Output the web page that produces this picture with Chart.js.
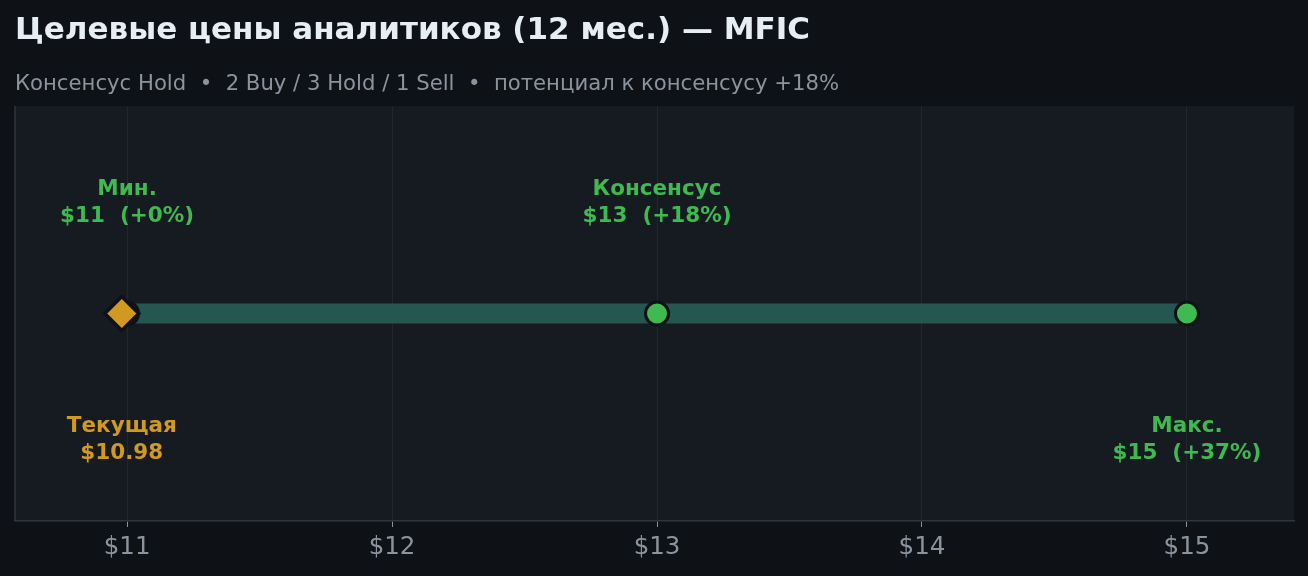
<!DOCTYPE html>
<html lang="ru">
<head>
    <meta charset="UTF-8">
    <title>Целевые цены аналитиков — MFIC</title>
    <script src="https://cdn.jsdelivr.net/npm/chart.js@4"></script>
    <style>
        html, body { margin: 0; padding: 0; background: #0e1217; }
        .wrap { width: 1308px; height: 576px; }
    </style>
</head>
<body>
    <div class="wrap"><canvas id="targets"></canvas></div>

    <script>
        // analyst targets, USD
        const targetNames = ['Мин.', 'Консенсус', 'Макс.'];
        const targetPrices = [11, 13, 15];
        const currentPrice = 10.98;
        const tickValues = [11, 12, 13, 14, 15];

        const GREEN = '#3fb950';
        const GOLD = '#d29922';
        const FONT = "'DejaVu Sans', sans-serif";

        const upside = p => {
            const v = Math.round((p / currentPrice - 1) * 100);
            return (v >= 0 ? '+' : '') + v + '%';
        };

        // plot background + left spine
        const plotBg = {
            id: 'plotBg',
            beforeDraw(chart) {
                const { ctx, chartArea: a } = chart;
                ctx.save();
                ctx.fillStyle = '#161b22';
                ctx.fillRect(a.left, a.top, a.right - a.left, a.bottom - a.top);
                ctx.strokeStyle = '#30363d';
                ctx.lineWidth = 1.5;
                ctx.beginPath();
                ctx.moveTo(a.left, a.top);
                ctx.lineTo(a.left, a.bottom);
                ctx.stroke();
                ctx.restore();
            }
        };

        // text annotations next to the markers
        const markerLabels = {
            id: 'markerLabels',
            afterDatasetsDraw(chart) {
                const { ctx, scales: { x, y } } = chart;
                const items = [
                    { lines: [targetNames[0], '$' + targetPrices[0] + '  (' + upside(targetPrices[0]) + ')'], at: targetPrices[0], up: true, color: GREEN },
                    { lines: [targetNames[1], '$' + targetPrices[1] + '  (' + upside(targetPrices[1]) + ')'], at: targetPrices[1], up: true, color: GREEN },
                    { lines: [targetNames[2], '$' + targetPrices[2] + '  (' + upside(targetPrices[2]) + ')'], at: targetPrices[2], up: false, color: GREEN },
                    { lines: ['Текущая', '$' + currentPrice.toFixed(2)], at: currentPrice, up: false, color: GOLD }
                ];
                ctx.save();
                ctx.font = 'bold 21.5px ' + FONT;
                ctx.textAlign = 'center';
                ctx.textBaseline = 'middle';
                items.forEach(it => {
                    const cx = x.getPixelForValue(it.at);
                    const cy = y.getPixelForValue(it.up ? 0.535 : -0.607);
                    ctx.fillStyle = it.color;
                    ctx.fillText(it.lines[0], cx, cy - 13.5);
                    ctx.fillText(it.lines[1], cx, cy + 13.5);
                });
                ctx.restore();
            }
        };

        new Chart(document.getElementById('targets'), {
            type: 'scatter',
            data: {
                datasets: [
                    {
                        type: 'line',
                        data: [{ x: currentPrice, y: 0 }, { x: targetPrices[targetPrices.length - 1], y: 0 }],
                        borderColor: '#25564f',
                        borderWidth: 20,
                        borderCapStyle: 'butt',
                        pointRadius: 0,
                        order: 3
                    },
                    {
                        data: targetPrices.map(p => ({ x: p, y: 0 })),
                        backgroundColor: GREEN,
                        borderColor: '#0e1217',
                        borderWidth: 3,
                        pointRadius: 11.5,
                        order: 2
                    },
                    {
                        data: [{ x: currentPrice, y: 0 }],
                        pointStyle: 'rectRot',
                        backgroundColor: GOLD,
                        borderColor: '#0e1217',
                        borderWidth: 3.5,
                        pointRadius: 17,
                        order: 1
                    }
                ]
            },
            options: {
                responsive: true,
                maintainAspectRatio: false,
                animation: false,
                layout: { autoPadding: false, padding: { left: 15, right: 14, bottom: 7.6, top: 0 } },
                plugins: {
                    legend: { display: false },
                    tooltip: { enabled: false },
                    title: {
                        display: true,
                        text: 'Целевые цены аналитиков (12 мес.) — MFIC',
                        align: 'start',
                        color: '#e6edf3',
                        font: { family: FONT, size: 31, weight: 'bold', lineHeight: 1.2 },
                        padding: { top: 12, bottom: 9.8 }
                    },
                    subtitle: {
                        display: true,
                        text: 'Консенсус Hold  •  2 Buy / 3 Hold / 1 Sell  •  потенциал к консенсусу +18%',
                        align: 'start',
                        color: '#8b949e',
                        font: { family: FONT, size: 21.2, lineHeight: 1.2 },
                        padding: { top: 12.4, bottom: 9.2 }
                    }
                },
                scales: {
                    x: {
                        type: 'linear',
                        min: 10.577,
                        max: 15.404,
                        afterBuildTicks: s => { s.ticks = tickValues.map(v => ({ value: v })); },
                        ticks: {
                            color: '#8b949e',
                            font: { family: FONT, size: 24.5 },
                            padding: 6,
                            callback: v => '$' + v
                        },
                        grid: {
                            color: '#22272e',
                            lineWidth: 1,
                            tickColor: '#8b949e',
                            tickLength: 6
                        },
                        border: { color: '#30363d', width: 1.5 }
                    },
                    y: {
                        display: false,
                        min: -1,
                        max: 1
                    }
                }
            },
            plugins: [plotBg, markerLabels]
        });
    </script>
</body>
</html>
